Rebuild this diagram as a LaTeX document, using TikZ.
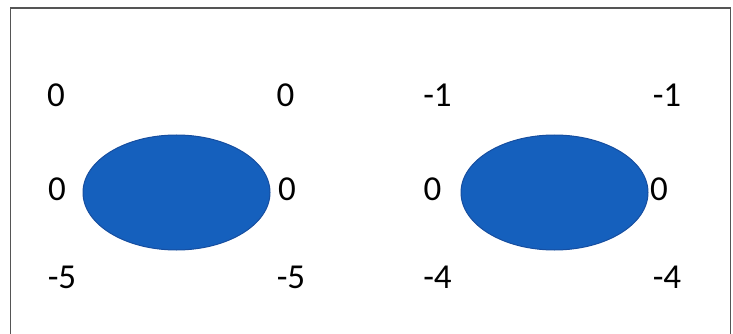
\documentclass[tikz,border=0pt]{standalone}
\usepackage{fontspec}
\setmainfont{Carlito}
\usetikzlibrary{shapes.geometric}
\definecolor{blobfill}{RGB}{21,96,189}
\definecolor{blobline}{RGB}{22,78,160}
\definecolor{framegray}{RGB}{85,85,85}
\tikzset{
  blob/.style={ellipse, fill=blobfill, draw=blobline, line width=1pt, minimum width=187pt, minimum height=115pt, inner sep=0pt},
  num/.style={inner sep=0pt, font=\fontsize{35}{40}\selectfont, text=black}
}
\begin{document}
\begin{tikzpicture}[x=1pt,y=-1pt]
\useasboundingbox (0,0) rectangle (733,334);
\draw[framegray, line width=1.5pt] (10.5,334) -- (10.5,8) -- (730.5,8) -- (730.5,334);
\node[blob] (e1) at (176.5,192.5) {};
\node[blob] (e2) at (554.5,192.5) {};
\node[num] (a1) at (56,95) {0};
\node[num] (a2) at (285.5,95) {0};
\node[num] (a3) at (57,189) {0};
\node[num] (a4) at (287,189) {0};
\node[num] (a5) at (62,277) {-5};
\node[num] (a6) at (291,277) {-5};
\node[num] (b1) at (437.5,95) {-1};
\node[num] (b2) at (667,95) {-1};
\node[num] (b3) at (432.5,189) {0};
\node[num] (b4) at (659,189) {0};
\node[num] (b5) at (437.5,277) {-4};
\node[num] (b6) at (667,277) {-4};
\end{tikzpicture}
\end{document}
